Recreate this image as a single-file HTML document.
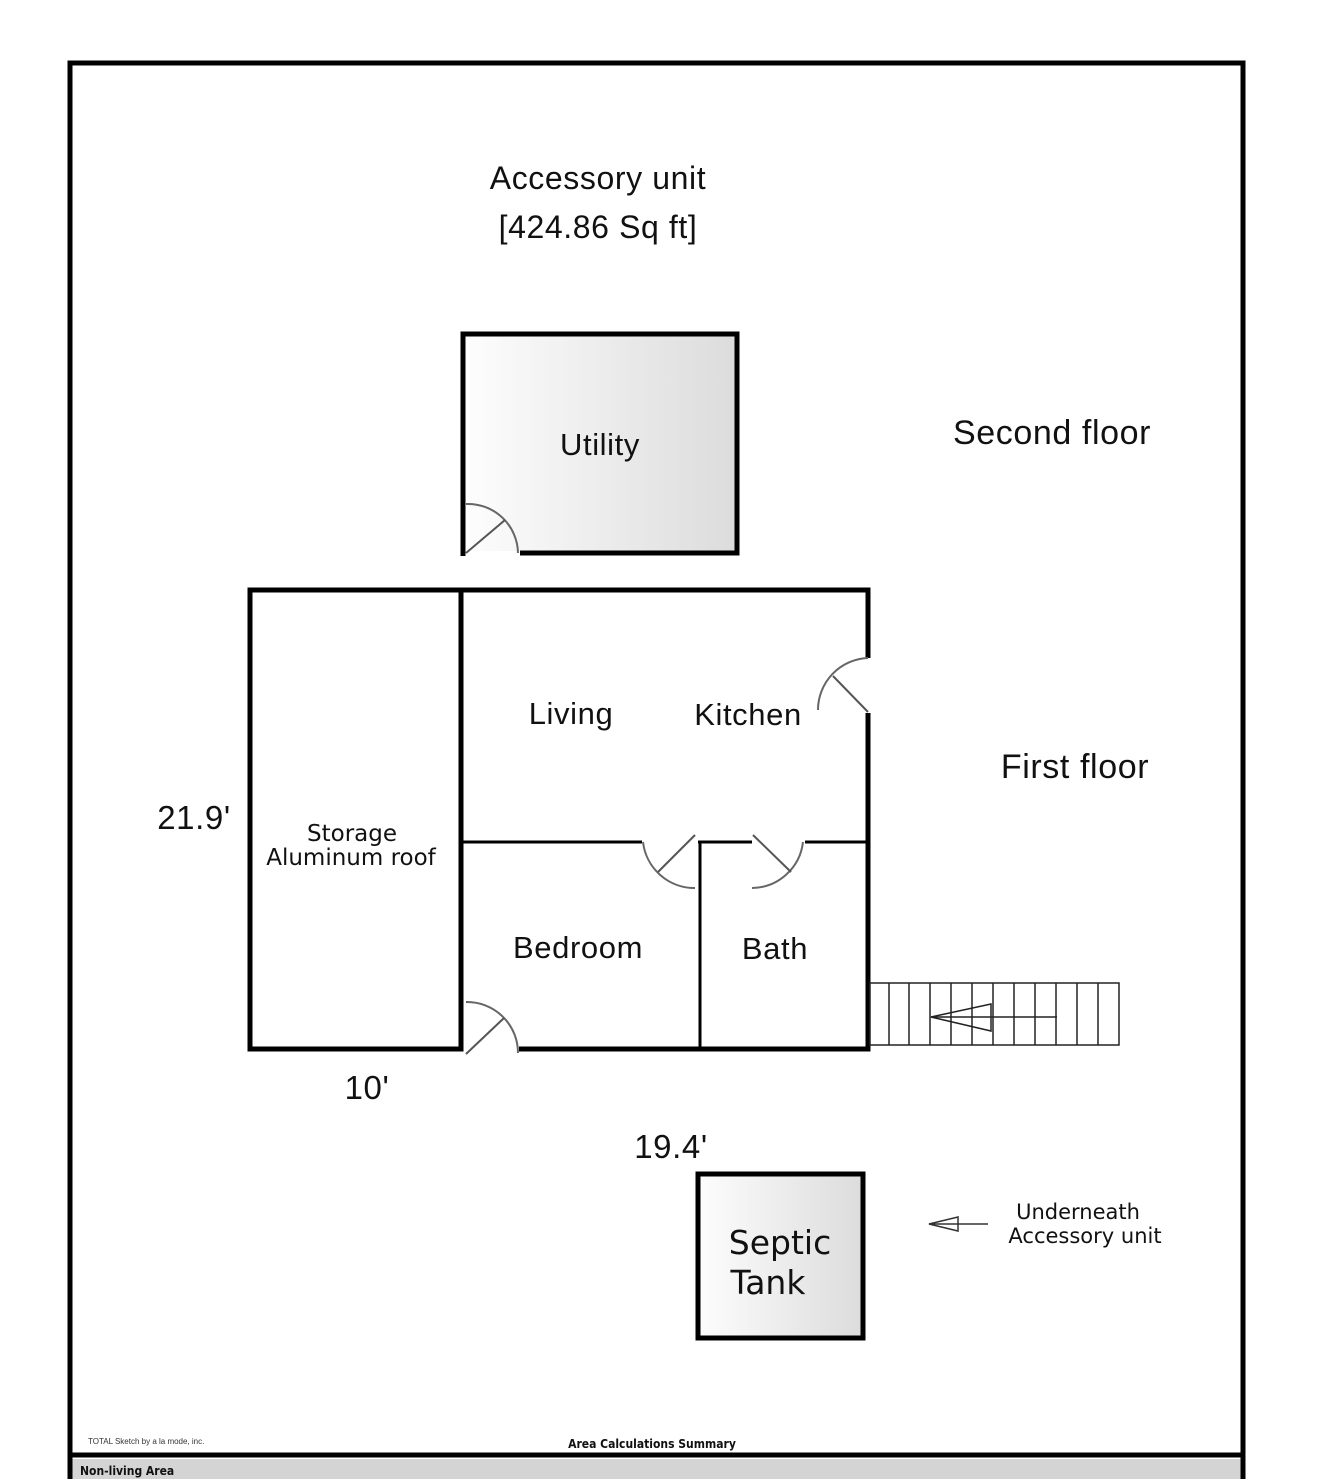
<!DOCTYPE html>
<html><head><meta charset="utf-8"><style>
html,body{margin:0;padding:0;background:#fff;}
svg{display:block;}
</style></head><body>
<svg width="1319" height="1479" viewBox="0 0 1319 1479" xmlns="http://www.w3.org/2000/svg">
<defs>
<linearGradient id="g" x1="0" y1="0" x2="1" y2="0">
<stop offset="0" stop-color="#fdfdfd"/><stop offset="1" stop-color="#dcdcdc"/>
</linearGradient>
</defs>
<rect width="1319" height="1479" fill="#fff"/>
<rect x="71" y="1459" width="1170" height="20" fill="#d4d4d4"/>
<path d="M70 1479 V63 H1243 V1479" fill="none" stroke="#000" stroke-width="5"/>
<line x1="70" y1="1455" x2="1243" y2="1455" stroke="#000" stroke-width="5"/>
<text x="88" y="1444" font-family="Liberation Sans, sans-serif" font-size="8" fill="#333">TOTAL Sketch by a la mode, inc.</text>
<text x="652" y="1448" text-anchor="middle" font-family="DejaVu Sans Condensed, DejaVu Sans, sans-serif" font-weight="bold" font-size="12" fill="#111">Area Calculations Summary</text>
<text x="80" y="1475" font-family="DejaVu Sans Condensed, DejaVu Sans, sans-serif" font-weight="bold" font-size="12" fill="#111">Non-living Area</text>

<!-- Utility -->
<rect x="466" y="336" width="269" height="215" fill="url(#g)"/>
<path d="M520 553 H737 V334 H463 V556" fill="none" stroke="#000" stroke-width="5"/>
<path d="M466 504 A50 50 0 0 1 518 553" fill="none" stroke="#666" stroke-width="2"/>
<line x1="466" y1="553" x2="505" y2="520" stroke="#555" stroke-width="2"/>

<!-- main building -->
<rect x="250" y="590" width="211" height="459" fill="none" stroke="#000" stroke-width="5"/>
<path d="M461 590 H868 V658" fill="none" stroke="#000" stroke-width="5"/>
<path d="M868 713 V1049 H519" fill="none" stroke="#000" stroke-width="5"/>
<line x1="461" y1="590" x2="461" y2="1051" stroke="#000" stroke-width="5"/>
<path d="M868 658 A52 52 0 0 0 818 710" fill="none" stroke="#666" stroke-width="2"/>
<line x1="868" y1="712" x2="833" y2="676" stroke="#555" stroke-width="2"/>
<line x1="461" y1="842" x2="642" y2="842" stroke="#000" stroke-width="3"/>
<line x1="698" y1="842" x2="752" y2="842" stroke="#000" stroke-width="3"/>
<line x1="805" y1="842" x2="868" y2="842" stroke="#000" stroke-width="3"/>
<line x1="700" y1="842" x2="700" y2="1049" stroke="#000" stroke-width="3"/>
<path d="M643 842 A52 52 0 0 0 695 888" fill="none" stroke="#666" stroke-width="2"/>
<line x1="658" y1="872" x2="695" y2="835" stroke="#555" stroke-width="2"/>
<path d="M752 888 A52 52 0 0 0 803 842" fill="none" stroke="#666" stroke-width="2"/>
<line x1="753" y1="835" x2="791" y2="872" stroke="#555" stroke-width="2"/>
<path d="M466 1002 A51 51 0 0 1 518 1053" fill="none" stroke="#666" stroke-width="2"/>
<line x1="466" y1="1054" x2="504" y2="1018" stroke="#555" stroke-width="2"/>

<!-- stairs -->
<g stroke="#222" stroke-width="1.5" fill="none">
<rect x="870" y="983" width="249" height="62"/>
<line x1="889" y1="983" x2="889" y2="1045"/><line x1="909" y1="983" x2="909" y2="1045"/>
<line x1="930" y1="983" x2="930" y2="1045"/><line x1="951" y1="983" x2="951" y2="1045"/>
<line x1="972" y1="983" x2="972" y2="1045"/><line x1="993" y1="983" x2="993" y2="1045"/>
<line x1="1014" y1="983" x2="1014" y2="1045"/><line x1="1035" y1="983" x2="1035" y2="1045"/>
<line x1="1056" y1="983" x2="1056" y2="1045"/><line x1="1077" y1="983" x2="1077" y2="1045"/>
<line x1="1098" y1="983" x2="1098" y2="1045"/>
<path d="M991 1004 L931 1017 L991 1031 Z"/>
<line x1="931" y1="1017" x2="1057" y2="1017"/>
</g>

<!-- septic -->
<rect x="698" y="1174" width="165" height="164" fill="url(#g)" stroke="#000" stroke-width="5"/>
<g stroke="#333" stroke-width="1.5" fill="none">
<path d="M958 1217 L929 1224 L958 1231 Z"/>
<line x1="929" y1="1224" x2="988" y2="1224"/>
</g>

<g font-family="Liberation Sans, sans-serif" fill="#111" letter-spacing="0.6">
<text x="598" y="189" text-anchor="middle" font-size="32">Accessory unit</text>
<text x="598" y="238" text-anchor="middle" font-size="32">[424.86 Sq ft]</text>
<text x="1052" y="444" text-anchor="middle" font-size="34">Second floor</text>
<text x="1075" y="778" text-anchor="middle" font-size="34">First floor</text>
<text x="600" y="455" text-anchor="middle" font-size="31">Utility</text>
<text x="571" y="724" text-anchor="middle" font-size="31">Living</text>
<text x="748" y="725" text-anchor="middle" font-size="31">Kitchen</text>
<text x="578" y="958" text-anchor="middle" font-size="31">Bedroom</text>
<text x="775" y="959" text-anchor="middle" font-size="31">Bath</text>
<text x="194" y="829" text-anchor="middle" font-size="33">21.9'</text>
<text x="367" y="1099" text-anchor="middle" font-size="33">10'</text>
<text x="671" y="1158" text-anchor="middle" font-size="33">19.4'</text>
</g>
<g font-family="DejaVu Sans, sans-serif" fill="#111">
<text x="352" y="841" text-anchor="middle" font-size="23">Storage</text>
<text x="351" y="865" text-anchor="middle" font-size="23">Aluminum roof</text>
<text x="780" y="1254" text-anchor="middle" font-size="33">Septic</text>
<text x="768" y="1294" text-anchor="middle" font-size="33">Tank</text>
<text x="1078" y="1219" text-anchor="middle" font-size="21">Underneath</text>
<text x="1085" y="1243" text-anchor="middle" font-size="21">Accessory unit</text>
</g>
</svg>
</body></html>
